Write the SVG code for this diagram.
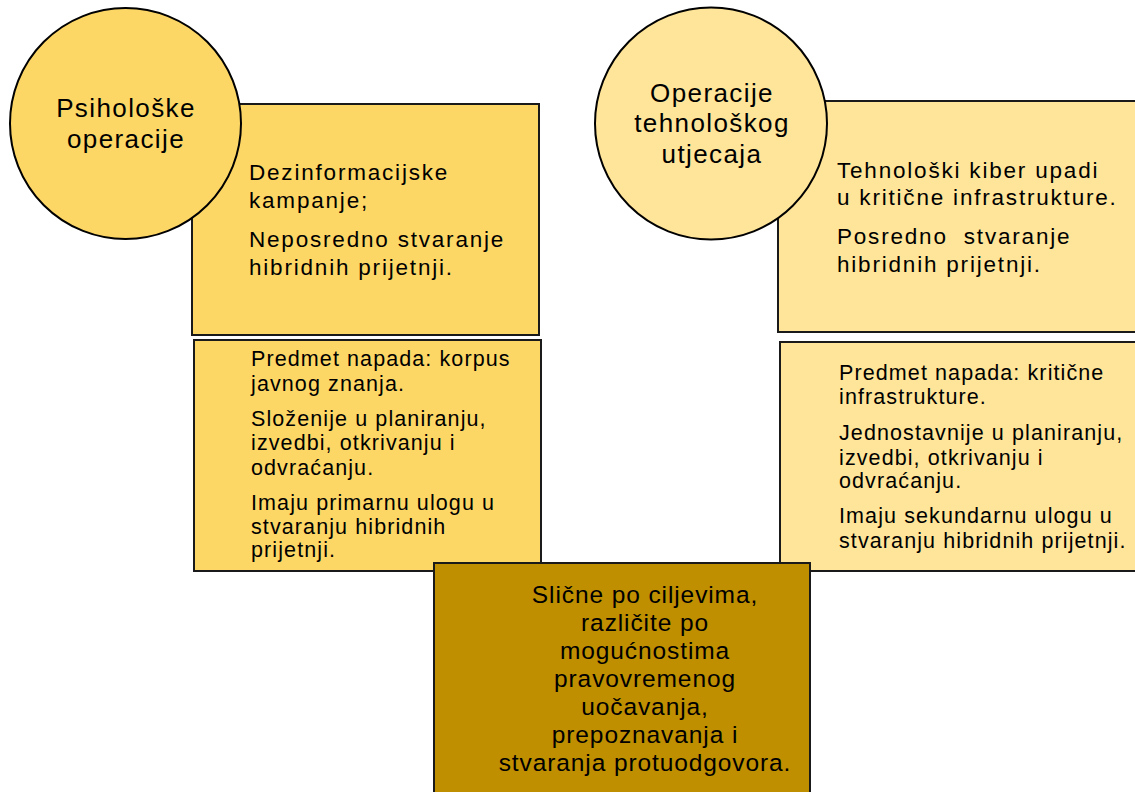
<svg xmlns="http://www.w3.org/2000/svg" width="1135" height="792" viewBox="0 0 1135 792">
<style>
text{font-family:"Liberation Sans",Arial,sans-serif;fill:#000;white-space:pre}
.box{stroke:#1a1a1a;stroke-width:2}
.circ{stroke:#000;stroke-width:2}
.l{fill:#FDD766}
.r{fill:#FFE599}
.b{fill:#BF8F00}
.ct{font-size:26px;letter-spacing:1.4px;text-anchor:middle}
.tt{font-size:22.5px;letter-spacing:1.8px}
.st{font-size:21.5px;letter-spacing:1.1px}
.bt{font-size:24.5px;letter-spacing:0.9px;text-anchor:middle}
</style>
<g id="connectors"/>
<g id="psy-top">
<rect class="box l" x="192" y="104" width="347" height="231"/>
<text class="tt" x="249" y="180">Dezinformacijske</text>
<text class="tt" x="249" y="208">kampanje;</text>
<text class="tt" x="249" y="247">Neposredno stvaranje</text>
<text class="tt" x="249" y="275">hibridnih prijetnji.</text>
</g>
<g id="psy-circle">
<circle class="circ l" cx="125.5" cy="123.5" r="115.5"/>
<text class="ct" x="126" y="117">Psihološke</text>
<text class="ct" x="126" y="148">operacije</text>
</g>
<g id="psy-bottom">
<rect class="box l" x="194" y="340" width="347" height="231"/>
<text class="st" x="251" y="366">Predmet napada: korpus</text>
<text class="st" x="251" y="391">javnog znanja.</text>
<text class="st" x="251" y="426">Složenije u planiranju,</text>
<text class="st" x="251" y="450">izvedbi, otkrivanju i</text>
<text class="st" x="251" y="475">odvraćanju.</text>
<text class="st" x="251" y="510">Imaju primarnu ulogu u</text>
<text class="st" x="251" y="534">stvaranju hibridnih</text>
<text class="st" x="251" y="557">prijetnji.</text>
</g>
<g id="tech-top">
<rect class="box r" x="778" y="101" width="370" height="231"/>
<text class="tt" x="837" y="178">Tehnološki kiber upadi</text>
<text class="tt" x="837" y="205">u kritične infrastrukture.</text>
<text class="tt" x="837" y="244">Posredno  stvaranje</text>
<text class="tt" x="837" y="272">hibridnih prijetnji.</text>
</g>
<g id="tech-circle">
<circle class="circ r" cx="711" cy="123.5" r="116"/>
<text class="ct" x="712" y="102">Operacije</text>
<text class="ct" x="712" y="132">tehnološkog</text>
<text class="ct" x="712" y="163">utjecaja</text>
</g>
<g id="tech-bottom">
<rect class="box r" x="780" y="342" width="370" height="229"/>
<text class="st" x="839" y="380">Predmet napada: kritične</text>
<text class="st" x="839" y="404">infrastrukture.</text>
<text class="st" x="839" y="440">Jednostavnije u planiranju,</text>
<text class="st" x="839" y="465">izvedbi, otkrivanju i</text>
<text class="st" x="839" y="488">odvraćanju.</text>
<text class="st" x="839" y="523">Imaju sekundarnu ulogu u</text>
<text class="st" x="839" y="548">stvaranju hibridnih prijetnji.</text>
</g>
<g id="common">
<rect class="box b" x="434" y="563" width="376" height="240"/>
<text class="bt" x="645" y="603">Slične po ciljevima,</text>
<text class="bt" x="645" y="631">različite po</text>
<text class="bt" x="645" y="659">mogućnostima</text>
<text class="bt" x="645" y="687">pravovremenog</text>
<text class="bt" x="645" y="715">uočavanja,</text>
<text class="bt" x="645" y="743">prepoznavanja i</text>
<text class="bt" x="645" y="771">stvaranja protuodgovora.</text>
</g>
</svg>
